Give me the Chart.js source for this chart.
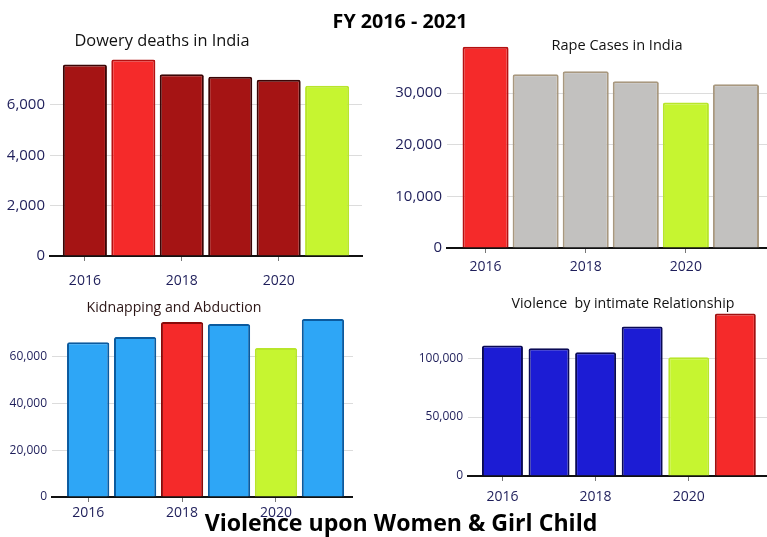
<!DOCTYPE html>
<html>
<head>
<meta charset="utf-8">
<script src="https://cdn.jsdelivr.net/npm/chart.js@4.4.1/dist/chart.umd.min.js"></script>
<style>
body{margin:0;width:767px;height:537px;overflow:hidden;background:#fff;position:relative;}
canvas{position:absolute;}
.titulo{position:absolute;white-space:pre;line-height:1;transform:translate(-50%,-50%);z-index:5;font-family:"Open Sans",sans-serif;color:#111;}
.grande{font-weight:bold;color:#000;}
</style>
</head>
<body>

<div class="titulo grande" data-w="135" style="left:400px;top:21px">FY 2016 - 2021</div>
<div class="titulo grande" data-w="393" style="left:401px;top:523px">Violence upon Women &amp; Girl Child</div>
<div class="titulo" data-w="175" style="left:162px;top:40px">Dowery deaths in India</div>
<div class="titulo" data-w="131" style="left:617px;top:44px">Rape Cases in India</div>
<div class="titulo" data-w="175" style="left:174px;top:307px;color:#2b1515">Kidnapping and Abduction</div>
<div class="titulo" data-w="223" style="left:623px;top:303px">Violence  by intimate Relationship</div>

<canvas id="dowery" width="375" height="255" style="left:-10px;top:35px"></canvas>
<canvas id="rape" width="380" height="258" style="left:387px;top:24px"></canvas>
<canvas id="kidnap" width="361" height="236" style="left:-8px;top:295px"></canvas>
<canvas id="intimate" width="359" height="219" style="left:408px;top:291px"></canvas>

<script>
// ajusta o tamanho da fonte dos titulos para a largura do original
document.querySelectorAll(".titulo").forEach(el=>{
el.style.fontSize="20px";
const alvo=Number(el.dataset.w);
el.style.fontSize=(20*alvo/el.offsetWidth).toFixed(2)+"px";
});

const anos = [2016,2017,2018,2019,2020,2021];
const anosTicks = [2016,2018,2020];

const doweryDeaths = [7600,7800,7220,7120,7000,6760];
const rapeCases = [38950,33650,34200,32300,28150,31700];
const kidnapping = [66300,68600,75000,74100,63900,76300];
const intimateViolence = [110800,108400,105000,126800,100800,137800];

const ticksDowery = [0,2000,4000,6000];
const ticksRape = [0,10000,20000,30000];
const ticksKidnap = [0,20000,40000,60000];
const ticksIntimate = [0,50000,100000];

const VERMELHO="#f52a2a", LIMA="#c6f530";

const coresDowery = ["#a51414",VERMELHO,"#a51414","#a51414","#a51414",LIMA];
const bordasDowery = ["#3a0606","#b51010","#3a0606","#3a0606","#3a0606","#b8e62a"];
const coresRape = [VERMELHO,"#c2c1bf","#c2c1bf","#c2c1bf",LIMA,"#c2c1bf"];
const bordasRape = ["#b51010","#a8987f","#a8987f","#a8987f","#b8e62a","#a8987f"];
const coresKidnap = ["#2ea6f6","#2ea6f6",VERMELHO,"#2ea6f6",LIMA,"#2ea6f6"];
const bordasKidnap = ["#0b5a9e","#0b5a9e","#8a0a0a","#0b5a9e","#b8e62a","#0b5a9e"];
const coresIntimate = ["#1c1cd4","#1c1cd4","#1c1cd4","#1c1cd4",LIMA,VERMELHO];
const bordasIntimate = ["#0a0a55","#0a0a55","#0a0a55","#0a0a55","#b8e62a","#a01010"];


function grafico(id,valores,yTicks,cores,bordas,cfg){

return new Chart(document.getElementById(id),{

type:"bar",

data:{
datasets:[{
data:anos.map((a,i)=>({x:a,y:valores[i]})),
backgroundColor:cores,
borderColor:bordas,
borderWidth:2,
borderRadius:2,
barPercentage:1,
categoryPercentage:cfg.largura
}]
},

options:{
responsive:false,
animation:false,
layout:{padding:{top:20,right:cfg.direita,bottom:0,left:0}},
plugins:{legend:{display:false},tooltip:{enabled:false}},
scales:{
x:{
type:"linear",
offset:false,
min:cfg.xMin,
max:cfg.xMax,
afterBuildTicks:s=>{s.ticks=anosTicks.map(v=>({value:v}));},
afterFit:s=>{s.height=34;},
grid:{offset:false,drawOnChartArea:false,tickLength:5,color:"#777"},
border:{color:"#111",width:2},
ticks:{
padding:cfg.xPad,
color:"#1e1e5a",
font:{family:"Open Sans",size:cfg.xFonte},
callback:v=>String(v)
}
},
y:{
min:0,
max:cfg.yMax,
afterBuildTicks:s=>{s.ticks=yTicks.map(v=>({value:v}));},
afterFit:s=>{s.width=60;},
grid:{color:"#dcdcdc",drawTicks:false},
border:{display:false},
ticks:{
padding:5,
color:"#1e1e5a",
font:{family:"Open Sans",size:cfg.yFonte},
callback:v=>v.toLocaleString("en-US")
}
}
}
}

});

}


grafico("dowery",doweryDeaths,ticksDowery,coresDowery,bordasDowery,
{largura:0.91,direita:3,xMin:2015.28,xMax:2021.72,yMax:7980,xFonte:14,yFonte:15,xPad:12});

grafico("rape",rapeCases,ticksRape,coresRape,bordasRape,
{largura:0.92,direita:0,xMin:2015.23,xMax:2021.62,yMax:39500,xFonte:14,yFonte:15,xPad:6});

grafico("kidnap",kidnapping,ticksKidnap,coresKidnap,bordasKidnap,
{largura:0.9,direita:0,xMin:2015.23,xMax:2021.64,yMax:78000,xFonte:14,yFonte:12,xPad:3});

grafico("intimate",intimateViolence,ticksIntimate,coresIntimate,bordasIntimate,
{largura:0.88,direita:0,xMin:2015.26,xMax:2021.68,yMax:140000,xFonte:14,yFonte:12,xPad:8});

</script>
</body>
</html>
